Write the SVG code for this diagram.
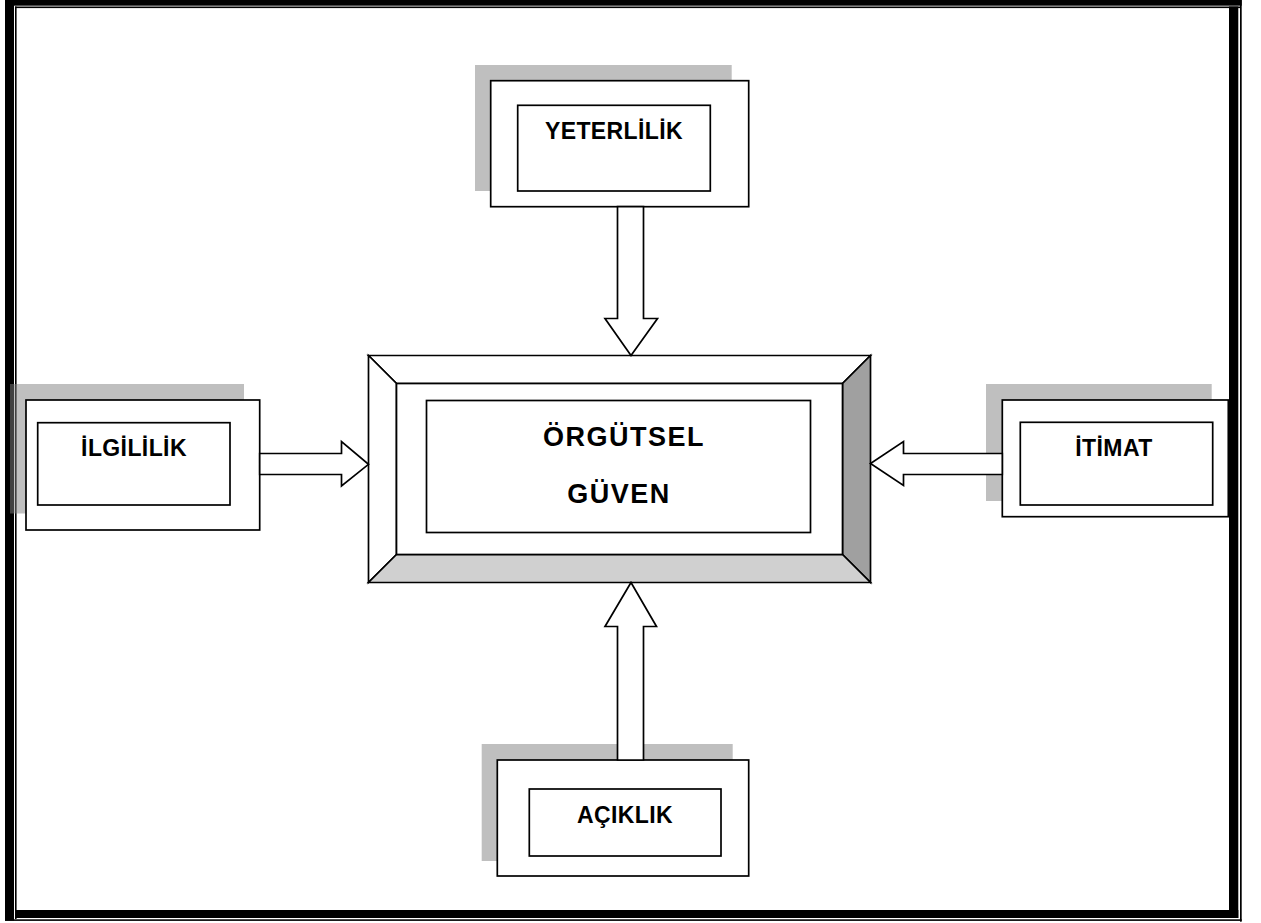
<svg xmlns="http://www.w3.org/2000/svg" width="1261" height="923" viewBox="0 0 1261 923">
  <style>
    .frame { fill: #000; }
    .shadow { fill: #808080; fill-opacity: 0.5; }
    .box { fill: #fff; stroke: #000; stroke-width: 1.7; }
    .arrow { fill: #fff; stroke: #000; stroke-width: 1.7; stroke-linejoin: miter; }
    .bevel { stroke: #000; stroke-width: 1.7; stroke-linejoin: miter; }
    .label { font-family: "Liberation Sans", Arial, sans-serif; font-weight: bold; font-size: 23px; letter-spacing: 0.4px; text-anchor: middle; fill: #000; }
    .title { font-size: 27px; letter-spacing: 1.5px; }
  </style>

  <rect width="1261" height="923" fill="#fff"/>

  <!-- page frame: thick/thin double rule -->
  <g id="frame">
    <rect class="frame" x="5" y="0" width="1236.7" height="5.7"/>
    <rect class="frame" x="5" y="0" width="9" height="920.5"/>
    <rect class="frame" x="15" y="6.5" width="1225" height="1.6"/>
    <rect class="frame" x="15" y="6.5" width="1.6" height="912.5"/>
    <rect class="frame" x="1229" y="6.5" width="9.3" height="911.5"/>
    <rect class="frame" x="15" y="910" width="1223.3" height="8"/>
    <rect class="frame" x="1240" y="0" width="1.7" height="921.7"/>
    <rect class="frame" x="5" y="919.3" width="1236.7" height="1.6"/>
  </g>

  <!-- central bevelled box -->
  <g id="orgutsel-guven">
    <polygon class="bevel" fill="#fff" points="368.5,355.5 870.5,355.5 842.5,383.5 396.5,383.5"/>
    <polygon class="bevel" fill="#fff" points="368.5,355.5 396.5,383.5 396.5,554.5 368.5,582.5"/>
    <polygon class="bevel" fill="#a0a0a0" points="870.5,355.5 870.5,582.5 842.5,554.5 842.5,383.5"/>
    <polygon class="bevel" fill="#d0d0d0" points="368.5,582.5 870.5,582.5 842.5,554.5 396.5,554.5"/>
    <rect x="396.5" y="383.5" width="446" height="171" fill="#fff" stroke="#000" stroke-width="1.7"/>
    <rect class="box" x="426.5" y="400.5" width="384" height="132"/>
    <text class="label title" x="624" y="446">ÖRGÜTSEL</text>
    <text class="label title" x="619" y="503">GÜVEN</text>
  </g>

  <g id="yeterlilik">
    <rect class="shadow" x="475" y="65" width="256.7" height="126"/>
    <rect class="box" x="490.7" y="80.7" width="258" height="126"/>
    <rect class="box" x="517.7" y="105.3" width="192.6" height="85.7"/>
    <text class="label" x="614" y="139">YETERLİLİK</text>
  </g>

  <g id="ilgililik">
    <rect class="shadow" x="10" y="384" width="234" height="129.5"/>
    <rect class="box" x="26" y="400" width="233.7" height="130"/>
    <rect class="box" x="37.7" y="422.7" width="192.3" height="82.3"/>
    <text class="label" x="134" y="456">İLGİLİLİK</text>
  </g>

  <g id="itimat">
    <rect class="shadow" x="986" y="384" width="225.7" height="117"/>
    <rect class="box" x="1002.3" y="400" width="226" height="116.7"/>
    <rect class="box" x="1020.3" y="422.3" width="192.4" height="82.7"/>
    <text class="label" x="1114" y="456">İTİMAT</text>
  </g>

  <g id="aciklik">
    <rect class="shadow" x="481.7" y="744" width="251" height="117"/>
    <rect class="box" x="497.3" y="760" width="251.4" height="116"/>
    <rect class="box" x="529.3" y="789" width="191.7" height="67"/>
    <text class="label" x="625" y="822.7">AÇIKLIK</text>
  </g>

  <!-- block arrows pointing into the central box -->
  <g id="connectors">
    <polygon class="arrow" points="617.5,206.7 643.5,206.7 643.5,318.5 657.5,318.5 631,355.5 605,318.5 617.5,318.5"/>
    <polygon class="arrow" points="617.5,760 617.5,626.5 605,626.5 631,582.5 656.5,626.5 643.5,626.5 643.5,760"/>
    <polygon class="arrow" points="259.7,453.5 341.5,453.5 341.5,441.5 368.5,464.3 341.5,486 341.5,474.5 259.7,474.5"/>
    <polygon class="arrow" points="1002.3,453.5 903.5,453.5 903.5,441.5 870.5,463.5 903.5,485.5 903.5,474.5 1002.3,474.5"/>
  </g>
</svg>
